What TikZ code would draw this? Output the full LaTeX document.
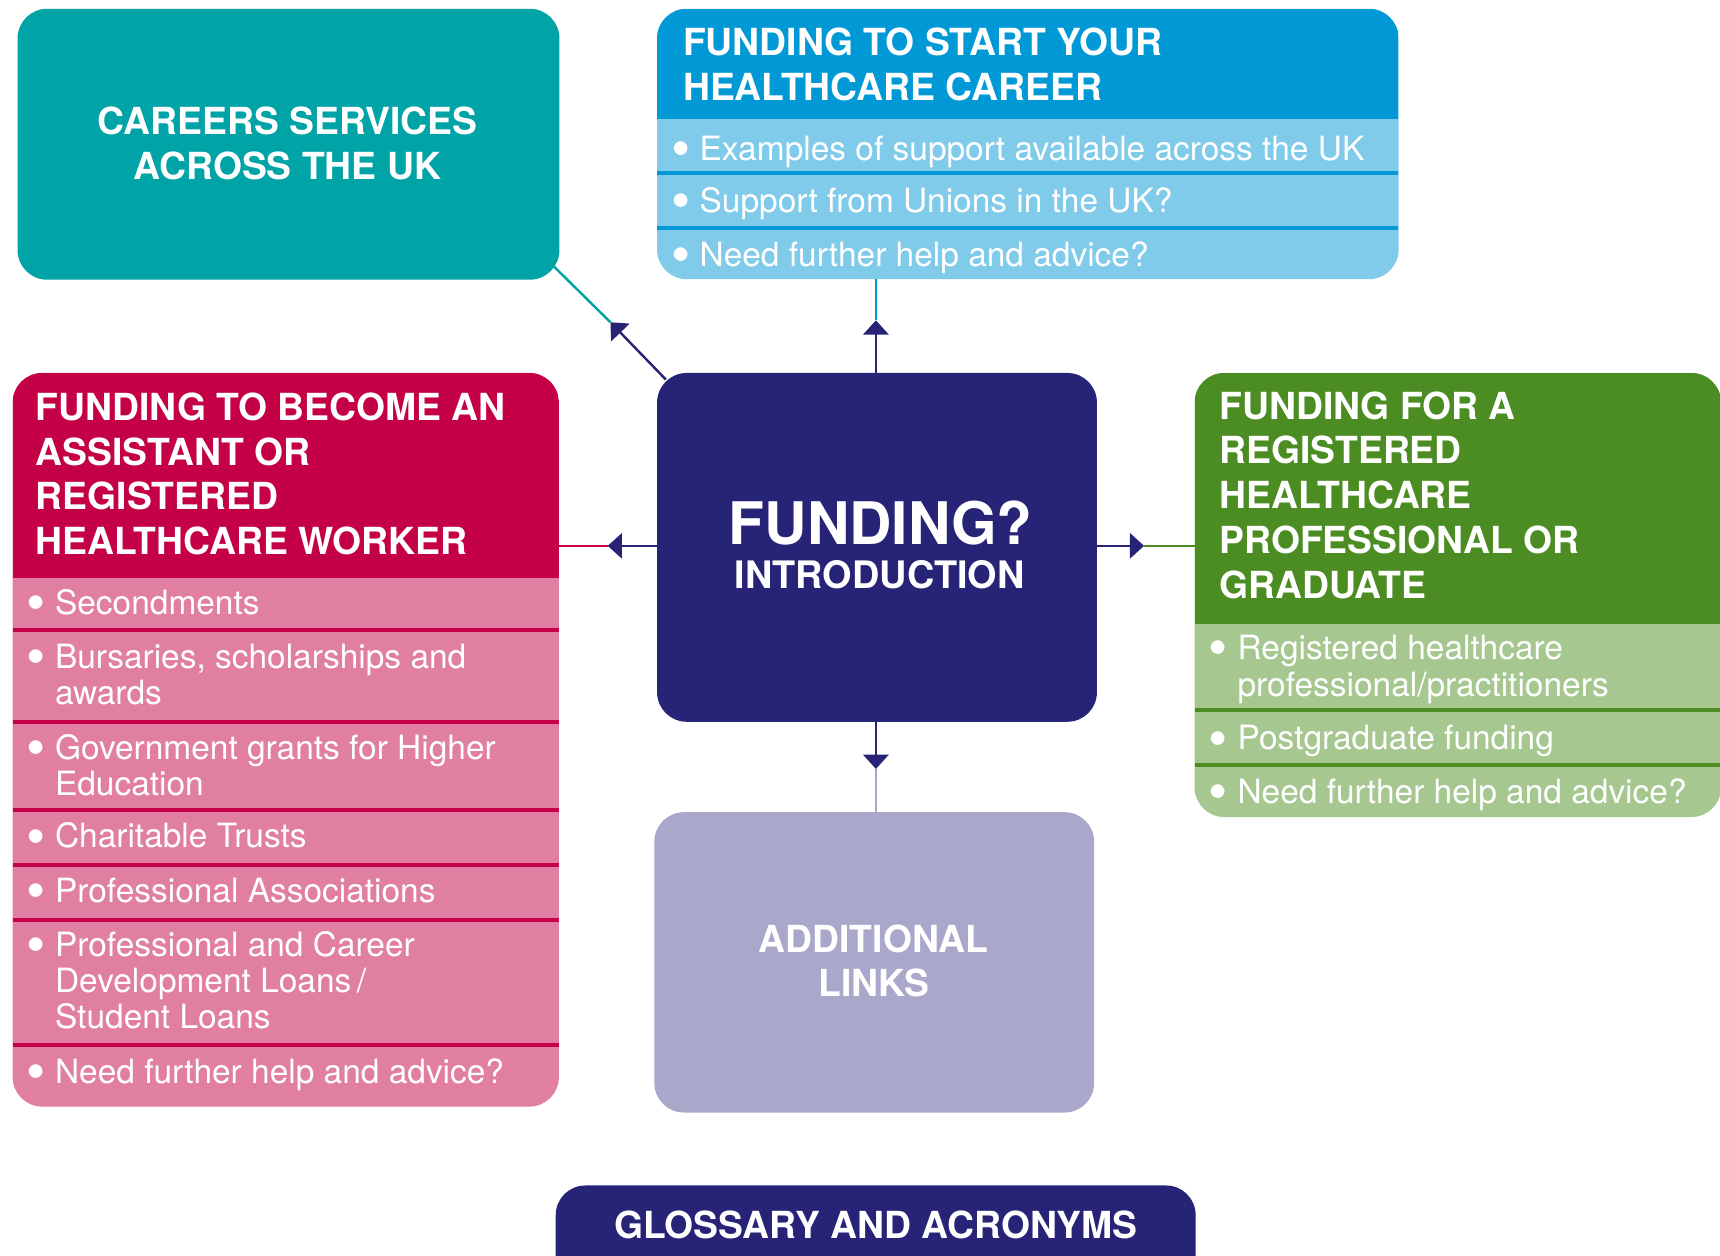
\documentclass[tikz,border=0pt]{standalone}
\usepackage{fontspec}
\setmainfont{TeX Gyre Heros}
\usetikzlibrary{arrows.meta}
\definecolor{cTeal}{HTML}{00A3A6}
\definecolor{cBlue}{HTML}{0099D6}
\definecolor{cLightBlue}{HTML}{80CAEA}
\definecolor{cNavy}{HTML}{272477}
\definecolor{cRed}{HTML}{C40046}
\definecolor{cPink}{HTML}{E07FA2}
\definecolor{cGreen}{HTML}{4C8D23}
\definecolor{cLightGreen}{HTML}{A6C890}
\definecolor{cLav}{HTML}{A9A8CB}
\begin{document}
\begin{tikzpicture}[x=1pt,y=-1pt,
  box/.style={rectangle, rounded corners=27pt, inner sep=0pt, outer sep=0pt, anchor=north west},
  hd/.style={font=\fontsize{34}{40}\selectfont\bfseries, text=white, inner sep=0pt, anchor=base west},
  hdc/.style={hd, anchor=base},
  it/.style={font=\fontsize{30.5}{33}\selectfont, text=white, inner sep=0pt, anchor=base west},
  bul/.style={font=\fontsize{50}{50}\selectfont, text=white, inner sep=0pt, anchor=base, yshift=-6.5pt},
  conn/.style={line width=2.2pt},
  tip/.style={-{Triangle[length=13pt,width=23pt]}}]
\fill[white] (0,0) rectangle (1568,1145);
\useasboundingbox (0,0) rectangle (1568,1145);

% ---------- Careers services ----------
\node[box, fill=cTeal, minimum width=494pt, minimum height=247pt] (careers) at (16,8) {};
\node[hdc] (careersT1) at (262,123) {CAREERS SERVICES};
\node[hdc] (careersT2) at (262,163.5) {ACROSS THE UK};

% ---------- Funding to start ----------
\node[box, fill=cLightBlue, minimum width=676pt, minimum height=246.5pt] (start) at (599,8) {};
\begin{scope}
  \clip[rounded corners=27pt] (599,8) rectangle (1275,254.5);
  \fill[cBlue] (599,8) rectangle (1275,108.8);
  \fill[cBlue] (599,156.3) rectangle (1275,159.6);
  \fill[cBlue] (599,206.3) rectangle (1275,209.6);
\end{scope}
\node[hd] (startT1) at (622.6,50.4) {FUNDING TO START YOUR};
\node[hd] (startT2) at (622.6,91.3) {HEALTHCARE CAREER};
\node[bul] (sb1) at (621,146) {•};
\node[it] (si1) at (637.6,146) {Examples of support available across the UK};
\node[bul] (sb2) at (621,193.4) {•};
\node[it] (si2) at (637.6,193.4) {Support from Unions in the UK?};
\node[bul] (sb3) at (621,242.8) {•};
\node[it] (si3) at (637.6,242.8) {Need further help and advice?};

% ---------- Central ----------
\node[box, fill=cNavy, minimum width=401pt, minimum height=318pt] (intro) at (599,340) {};
\node[font=\fontsize{53.5}{54}\selectfont\bfseries, text=white, inner sep=0pt, anchor=base] (introT1) at (803,496.5) {FUNDING?};
\node[font=\fontsize{34.5}{38}\selectfont\bfseries, text=white, inner sep=0pt, anchor=base] (introT2) at (802,536.6) {INTRODUCTION};

% ---------- Assistant / registered worker ----------
\node[box, fill=cPink, minimum width=498pt, minimum height=668.8pt] (assist) at (11.5,340) {};
\begin{scope}
  \clip[rounded corners=27pt] (11.5,340) rectangle (509.5,1008.8);
  \fill[cRed] (11.5,340) rectangle (509.5,527);
  \foreach \s in {574.3,658,738,788.5,838.7,952.6}
    \fill[cRed] (11.5,\s-1.8) rectangle (509.5,\s+1.8);
\end{scope}
\node[hd] (assistT1) at (32.5,383.3) {FUNDING TO BECOME AN};
\node[hd] (assistT2) at (32.5,424.2) {ASSISTANT OR};
\node[hd] (assistT3) at (32.5,464.4) {REGISTERED};
\node[hd] (assistT4) at (32.5,505.6) {HEALTHCARE WORKER};
\node[bul] (ab1) at (33,560.4) {•};
\node[it] (ai1) at (50,560.4) {Secondments};
\node[bul] (ab2) at (33,609) {•};
\node[it] (ai2a) at (50,609) {Bursaries, scholarships and};
\node[it] (ai2b) at (50,641.8) {awards};
\node[bul] (ab3) at (33,692) {•};
\node[it] (ai3a) at (50,692) {Government grants for Higher};
\node[it] (ai3b) at (50,725.6) {Education};
\node[bul] (ab4) at (33,773) {•};
\node[it] (ai4) at (50,773) {Charitable Trusts};
\node[bul] (ab5) at (33,822.5) {•};
\node[it] (ai5) at (50,822.5) {Professional Associations};
\node[bul] (ab6) at (33,872) {•};
\node[it] (ai6a) at (50,872) {Professional and Career};
\node[it] (ai6b) at (50,904.7) {Development Loans\,/};
\node[it] (ai6c) at (50,937.6) {Student Loans};
\node[bul] (ab7) at (33,988) {•};
\node[it] (ai7) at (50,988) {Need further help and advice?};

% ---------- Registered professional ----------
\node[box, fill=cLightGreen, minimum width=480pt, minimum height=404.8pt] (prof) at (1089,340) {};
\begin{scope}
  \clip[rounded corners=27pt] (1089,340) rectangle (1569,744.8);
  \fill[cGreen] (1089,340) rectangle (1569,568.5);
  \foreach \s in {647.2,697.4}
    \fill[cGreen] (1089,\s-1.8) rectangle (1569,\s+1.8);
\end{scope}
\node[hd] (profT1) at (1111.5,382.6) {FUNDING FOR A};
\node[hd] (profT2) at (1111.5,422.8) {REGISTERED};
\node[hd] (profT3) at (1111.5,464) {HEALTHCARE};
\node[hd] (profT4) at (1111.5,505) {PROFESSIONAL OR};
\node[hd] (profT5) at (1111.5,545.8) {GRADUATE};
\node[bul] (pb1) at (1110,601) {•};
\node[it] (pi1a) at (1128,601) {Registered healthcare};
\node[it] (pi1b) at (1128,634.5) {professional/practitioners};
\node[bul] (pb2) at (1110,683.7) {•};
\node[it] (pi2) at (1128,683.7) {Postgraduate funding};
\node[bul] (pb3) at (1110,732.4) {•};
\node[it] (pi3) at (1128,732.4) {Need further help and advice?};

% ---------- Additional links ----------
\node[box, fill=cLav, minimum width=401pt, minimum height=273.8pt] (links) at (596.5,740.4) {};
\node[hdc] (linksT1) at (796.5,868) {ADDITIONAL};
\node[hdc] (linksT2) at (796.5,908.3) {LINKS};

% ---------- Glossary ----------
\node[box, fill=cNavy, minimum width=583.4pt, minimum height=100pt] (gloss) at (506.6,1080.7) {};
\node[hdc] (glossT) at (798.5,1129) {GLOSSARY AND ACRONYMS};

% ---------- Connectors ----------
\coordinate (upTip) at (798.5,292);
\coordinate (leftTip) at (554,497.6);
\coordinate (rightTip) at (1043,497.6);
\coordinate (downTip) at (798.5,701);
\coordinate (diagTip) at (556.5,293.8);
\coordinate (careersEnd) at (504,242);

\draw[conn, cNavy, tip] (upTip |- intro.north) -- (upTip);
\draw[conn, cBlue] (upTip) -- (upTip |- start.south);

\draw[conn, cNavy, tip] (leftTip -| intro.west) -- (leftTip);
\draw[conn, cRed] (leftTip) -- (leftTip -| assist.east);

\draw[conn, cNavy, tip] (rightTip -| intro.east) -- (rightTip);
\draw[conn, cGreen] (rightTip) -- (rightTip -| prof.west);

\draw[conn, cNavy, tip] ([shift={(8,6)}]intro.north west) -- (diagTip);
\draw[conn, cTeal] (diagTip) -- (careersEnd);

\draw[conn, cNavy, tip] (downTip |- intro.south) -- (downTip);
\draw[conn, cLav] (downTip) -- (downTip |- links.north);
\end{tikzpicture}
\end{document}
